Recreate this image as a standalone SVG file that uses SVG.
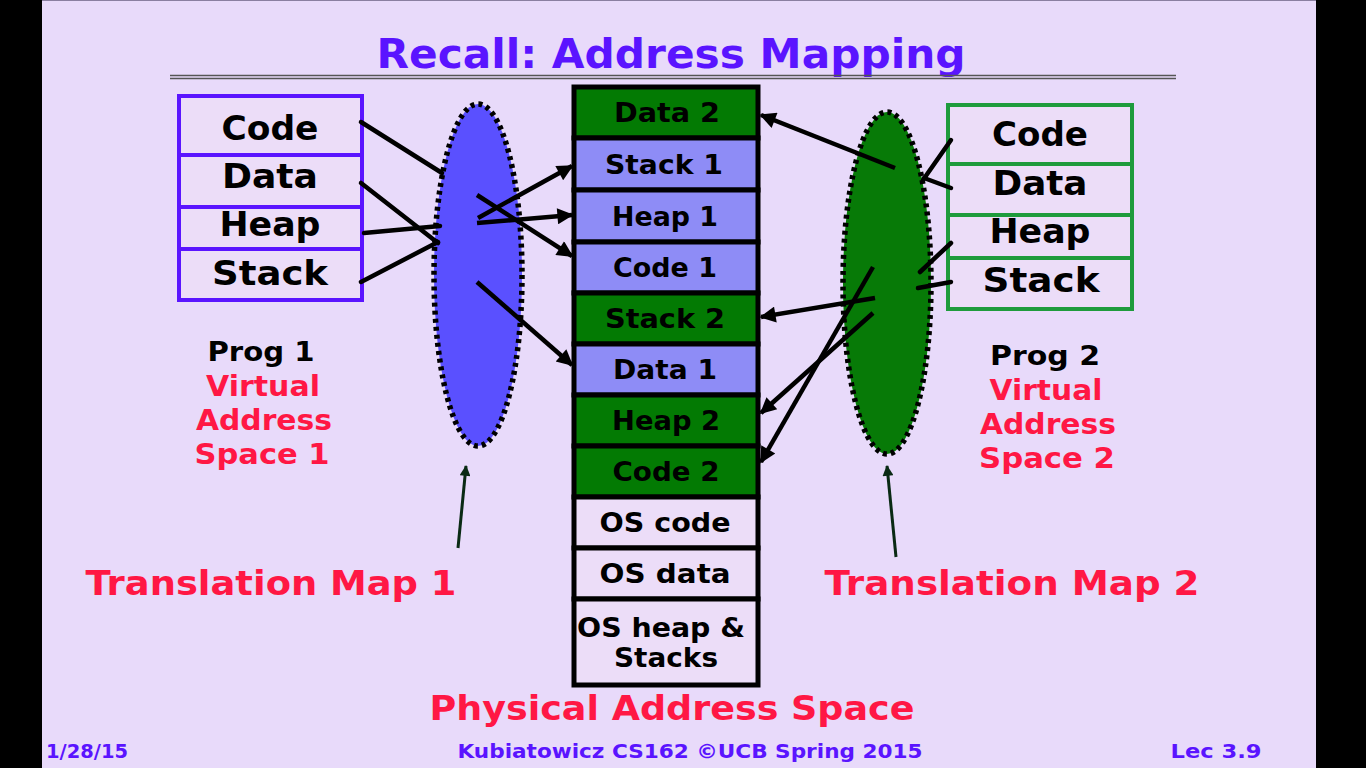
<svg xmlns="http://www.w3.org/2000/svg" width="1366" height="768" viewBox="0 0 1366 768">
<defs>
<style>
.t{font-family:"DejaVu Sans","Liberation Sans",sans-serif;font-weight:bold;text-anchor:middle}
.blk{fill:#000}
.red{fill:#FF1744}
.blu{fill:#5A14FF}
.vb1{fill:#ECDDF8;stroke:#5A14FF;stroke-width:4}
.vb2{fill:#ECDDF8;stroke:#1E9B3C;stroke-width:4}
.pg{fill:#037A03;stroke:#000;stroke-width:5}
.pb{fill:#8E8CF6;stroke:#000;stroke-width:5}
.po{fill:#ECDDF8;stroke:#000;stroke-width:5}
.ln{stroke:#000;stroke-width:4.5;fill:none;stroke-linecap:round}
.ar{stroke:#000;stroke-width:4.5;fill:none;marker-end:url(#ah)}
.up{stroke:#0A2A14;stroke-width:3;fill:none;marker-end:url(#ah2)}
.el{stroke:#000;stroke-width:5.5;stroke-dasharray:4 4}
</style>
<marker id="ah" viewBox="0 0 10 10" refX="9" refY="5" markerWidth="4" markerHeight="3.6" markerUnits="strokeWidth" orient="auto">
<path d="M0,0 L10,5 L0,10 z" fill="#000"/>
</marker>
<marker id="ah2" viewBox="0 0 10 10" refX="9" refY="5" markerWidth="4.5" markerHeight="3.6" markerUnits="strokeWidth" orient="auto">
<path d="M0,0 L10,5 L0,10 z" fill="#0A2A14"/>
</marker>
</defs>
<rect x="0" y="0" width="1366" height="768" fill="#000"/>
<rect x="42" y="0" width="1274" height="768" fill="#E8DAFA"/>
<line x1="42" y1="0.5" x2="1316" y2="0.5" stroke="#8A7FA0" stroke-width="1"/>

<g id="title">
<text class="t blu" x="671" y="68" font-size="40" textLength="589" lengthAdjust="spacingAndGlyphs">Recall: Address Mapping</text>
<line x1="170" y1="75.5" x2="1176" y2="75.5" stroke="#555" stroke-width="1.5"/>
<line x1="170" y1="78.5" x2="1176" y2="78.5" stroke="#555" stroke-width="1.5"/>
</g>

<g id="prog1">
<rect class="vb1" x="179" y="96" width="183" height="59"/>
<rect class="vb1" x="179" y="155" width="183" height="52"/>
<rect class="vb1" x="179" y="207" width="183" height="42"/>
<rect class="vb1" x="179" y="249" width="183" height="51"/>
<text class="t blk" x="270" y="140" font-size="34" textLength="97" lengthAdjust="spacingAndGlyphs">Code</text>
<text class="t blk" x="270" y="188" font-size="34" textLength="96" lengthAdjust="spacingAndGlyphs">Data</text>
<text class="t blk" x="270" y="236" font-size="34" textLength="101" lengthAdjust="spacingAndGlyphs">Heap</text>
<text class="t blk" x="270" y="285" font-size="34" textLength="116" lengthAdjust="spacingAndGlyphs">Stack</text>
</g>

<g id="prog1-label">
<text class="t blk" x="261" y="361" font-size="27" textLength="107" lengthAdjust="spacingAndGlyphs">Prog 1</text>
<text class="t red" x="263" y="396" font-size="28" textLength="114" lengthAdjust="spacingAndGlyphs">Virtual</text>
<text class="t red" x="264" y="430" font-size="28" textLength="136" lengthAdjust="spacingAndGlyphs">Address</text>
<text class="t red" x="262" y="464" font-size="28" textLength="135" lengthAdjust="spacingAndGlyphs">Space 1</text>
</g>

<g id="map1">
<ellipse class="el" cx="478" cy="275" rx="44" ry="171" fill="#5A50FF"/>
</g>

<g id="prog2">
<rect class="vb2" x="948" y="105" width="184" height="59"/>
<rect class="vb2" x="948" y="164" width="184" height="51"/>
<rect class="vb2" x="948" y="215" width="184" height="43"/>
<rect class="vb2" x="948" y="258" width="184" height="51"/>
<text class="t blk" x="1040" y="146" font-size="34" textLength="96" lengthAdjust="spacingAndGlyphs">Code</text>
<text class="t blk" x="1040" y="195" font-size="34" textLength="95" lengthAdjust="spacingAndGlyphs">Data</text>
<text class="t blk" x="1040" y="243" font-size="34" textLength="101" lengthAdjust="spacingAndGlyphs">Heap</text>
<text class="t blk" x="1041" y="292" font-size="34" textLength="117" lengthAdjust="spacingAndGlyphs">Stack</text>
</g>

<g id="prog2-label">
<text class="t blk" x="1045" y="365" font-size="27" textLength="110" lengthAdjust="spacingAndGlyphs">Prog 2</text>
<text class="t red" x="1046" y="400" font-size="28" textLength="113" lengthAdjust="spacingAndGlyphs">Virtual</text>
<text class="t red" x="1048" y="434" font-size="28" textLength="136" lengthAdjust="spacingAndGlyphs">Address</text>
<text class="t red" x="1047" y="468" font-size="28" textLength="136" lengthAdjust="spacingAndGlyphs">Space 2</text>
</g>

<g id="map2">
<ellipse class="el" cx="887" cy="283" rx="44" ry="171" fill="#077A07"/>
</g>

<g id="physical">
<rect class="pg" x="574" y="87" width="184" height="51"/>
<rect class="pb" x="574" y="138" width="184" height="52"/>
<rect class="pb" x="574" y="190" width="184" height="52"/>
<rect class="pb" x="574" y="242" width="184" height="51"/>
<rect class="pg" x="574" y="293" width="184" height="51"/>
<rect class="pb" x="574" y="344" width="184" height="51"/>
<rect class="pg" x="574" y="395" width="184" height="51"/>
<rect class="pg" x="574" y="446" width="184" height="51"/>
<rect class="po" x="574" y="497" width="184" height="51"/>
<rect class="po" x="574" y="548" width="184" height="51"/>
<rect class="po" x="574" y="599" width="184" height="86"/>
<text class="t blk" x="667" y="122" font-size="26" textLength="106" lengthAdjust="spacingAndGlyphs">Data 2</text>
<text class="t blk" x="664" y="174" font-size="26" textLength="118" lengthAdjust="spacingAndGlyphs">Stack 1</text>
<text class="t blk" x="665" y="226" font-size="26" textLength="106" lengthAdjust="spacingAndGlyphs">Heap 1</text>
<text class="t blk" x="665" y="277" font-size="26" textLength="104" lengthAdjust="spacingAndGlyphs">Code 1</text>
<text class="t blk" x="665" y="328" font-size="26" textLength="120" lengthAdjust="spacingAndGlyphs">Stack 2</text>
<text class="t blk" x="665" y="379" font-size="26" textLength="104" lengthAdjust="spacingAndGlyphs">Data 1</text>
<text class="t blk" x="666" y="430" font-size="26" textLength="108" lengthAdjust="spacingAndGlyphs">Heap 2</text>
<text class="t blk" x="666" y="481" font-size="26" textLength="107" lengthAdjust="spacingAndGlyphs">Code 2</text>
<text class="t blk" x="665" y="532" font-size="26" textLength="131" lengthAdjust="spacingAndGlyphs">OS code</text>
<text class="t blk" x="665" y="583" font-size="26" textLength="131" lengthAdjust="spacingAndGlyphs">OS data</text>
<text class="t blk" x="661" y="637" font-size="26" textLength="168" lengthAdjust="spacingAndGlyphs">OS heap &amp;</text>
<text class="t blk" x="666" y="667" font-size="26" textLength="104" lengthAdjust="spacingAndGlyphs">Stacks</text>
</g>

<g id="connectors">
<line class="ln" x1="361" y1="122" x2="442" y2="173"/>
<line class="ln" x1="361" y1="183" x2="438" y2="243"/>
<line class="ln" x1="364" y1="233" x2="440" y2="226"/>
<line class="ln" x1="361" y1="282" x2="438" y2="242"/>
<line class="ar" x1="477" y1="195" x2="572" y2="256"/>
<line class="ar" x1="477" y1="223" x2="572" y2="215"/>
<line class="ar" x1="478" y1="218" x2="572" y2="166"/>
<line class="ar" x1="477" y1="282" x2="572" y2="365"/>
<line class="ln" x1="951" y1="140" x2="923" y2="180"/>
<line class="ln" x1="951" y1="188" x2="924" y2="178"/>
<line class="ln" x1="951" y1="243" x2="920" y2="272"/>
<line class="ln" x1="951" y1="282" x2="918" y2="288"/>
<line class="ar" x1="895" y1="168" x2="761" y2="115"/>
<line class="ar" x1="875" y1="298" x2="761" y2="317"/>
<line class="ar" x1="873" y1="313" x2="761" y2="413"/>
<line class="ar" x1="873" y1="267" x2="761" y2="462"/>
<line class="up" x1="458" y1="548" x2="466" y2="466"/>
<line class="up" x1="896" y1="557" x2="887" y2="466"/>
</g>

<g id="labels">
<text class="t red" x="271" y="595" font-size="34" textLength="371" lengthAdjust="spacingAndGlyphs">Translation Map 1</text>
<text class="t red" x="1012" y="595" font-size="34" textLength="375" lengthAdjust="spacingAndGlyphs">Translation Map 2</text>
<text class="t red" x="672" y="720" font-size="34" textLength="485" lengthAdjust="spacingAndGlyphs">Physical Address Space</text>
</g>

<g id="footer">
<text class="t blu" x="87" y="758" font-size="20" textLength="82" lengthAdjust="spacingAndGlyphs">1/28/15</text>
<text class="t blu" x="690" y="758" font-size="20" textLength="465" lengthAdjust="spacingAndGlyphs">Kubiatowicz CS162 ©UCB Spring 2015</text>
<text class="t blu" x="1216" y="758" font-size="20" textLength="91" lengthAdjust="spacingAndGlyphs">Lec 3.9</text>
</g>
</svg>
